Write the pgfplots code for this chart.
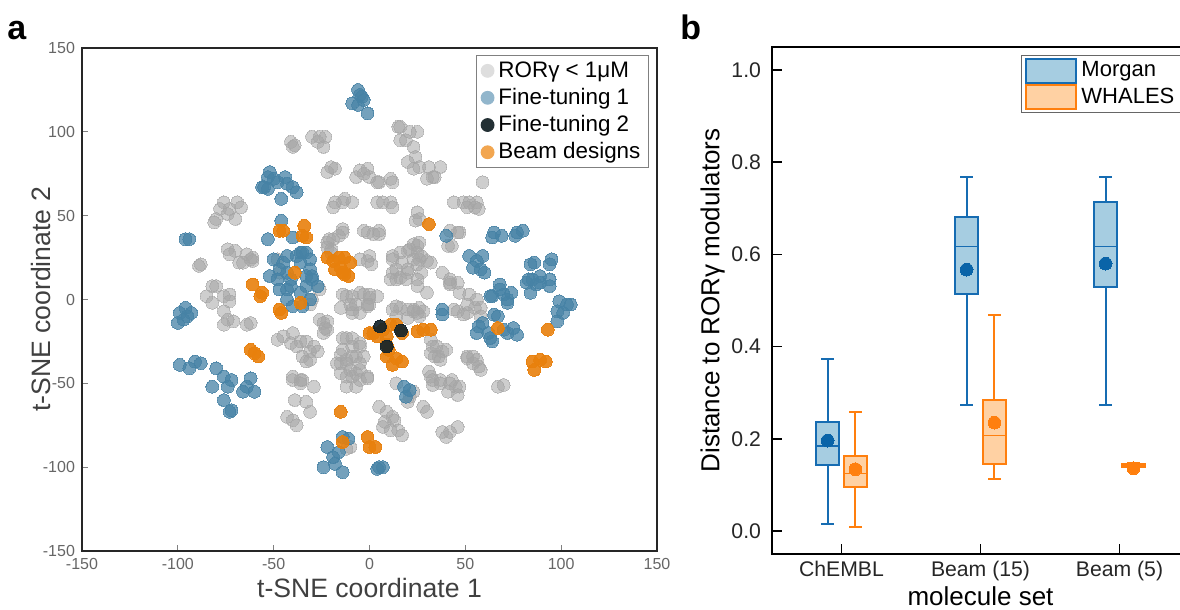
\documentclass[border=0pt]{standalone}
\usepackage{fontspec}
\setmainfont{Liberation Sans}
\usepackage{pgfplots}
\pgfplotsset{compat=1.18}
\usepgfplotslibrary{statistics}

% scatter colours
\definecolor{ptgray}{RGB}{165,165,165}
\definecolor{ptblue}{RGB}{70,130,165}
\definecolor{ptorange}{RGB}{232,128,12}
\definecolor{ptdark}{RGB}{22,36,42}
% legend swatches (panel a)
\definecolor{lgray}{RGB}{222,222,222}
\definecolor{lblue}{RGB}{146,182,204}
\definecolor{ldark}{RGB}{35,48,52}
\definecolor{lorange}{RGB}{242,166,80}
% box plot colours
\definecolor{mline}{RGB}{22,108,178}
\definecolor{mfill}{RGB}{166,205,225}
\definecolor{mdot}{RGB}{10,100,168}
\definecolor{wline}{RGB}{255,127,14}
\definecolor{wfill}{RGB}{255,209,163}

\begin{document}
\begin{tikzpicture}[x=1pt,y=1pt]

% ---------------- panel a: t-SNE ----------------
\begin{axis}[
    at={(41pt,29.5pt)}, anchor=south west,
    width=287.5pt, height=251.5pt, scale only axis,
    xmin=-150, xmax=150, ymin=-150, ymax=150,
    xtick={-150,-100,...,150}, ytick={-150,-100,...,150},
    tick align=inside, xtick pos=bottom, ytick pos=left,
    major tick length=3pt,
    tick style={black!50, line width=0.5pt},
    axis line style={line width=1.2pt, draw=black!85},
    ticklabel style={font=\fontsize{8}{9}\selectfont, text=black!60},
    /pgf/number format/assume math mode=true,
    xlabel={t-SNE coordinate 1}, ylabel={t-SNE coordinate 2},
    label style={font=\fontsize{13.3}{15}\selectfont, text=black!75},
    xlabel style={yshift=2.5pt}, ylabel style={yshift=-11pt},
    legend image code/.code={\fill[#1] (0pt,0pt) circle (3.2pt);},
    legend style={at={(0.986,0.986)}, anchor=north east,
        draw=black!50, line width=0.5pt,
        font=\fontsize{11.2}{13}\selectfont,
        inner xsep=2pt, inner ysep=1pt, row sep=0pt,
        cells={anchor=west}},
]
\addlegendimage{lgray}\addlegendentry{RORγ < 1μM}
\addlegendimage{lblue}\addlegendentry{Fine-tuning 1}
\addlegendimage{ldark}\addlegendentry{Fine-tuning 2}
\addlegendimage{lorange}\addlegendentry{Beam designs}

% RORgamma < 1uM
\addplot[forget plot, only marks, mark=*, mark size=3.2pt,
    mark options={solid, fill=ptgray, draw=ptgray, line width=0pt, opacity=0.55}] coordinates {
(-41,94) (-40,91) (-39,92)
(-30,97) (-26,97) (-23,97) (-27,94) (-24,91)
(-22,76) (-20,79) (-18,78)
(-7,73) (-3,75) (-1,78) (0,73) (4,70) (-5,77)
(-18,58) (-14,58) (-13,60) (-9,58) (-19,55)
(4,58) (7,58) (11,58) (12,55)
(-76,58) (-73,54) (-69,58) (-67,55) (-78,54) (-74,51) (-70,48) (-80,48) (-81,46)
(-74,30) (-70,29) (-64,27) (-62,24) (-66,22) (-61,23) (-68,22) (-73,27) (-61,25)
(-89,20) (-88,21)
(-22,34) (-20,30) (-16,38) (-14,40) (-19,36) (-14,42) (-21,36) (-22,31) (-20,28)
(-1,40) (2,39) (5,39) (-3,41) (5,41)
(-1,23) (1,21) (0,26) (-5,24)
(-48,24) (-47,16)
(-80,8)
(16,103) (21,100) (25,100) (19,95) (23,91) (24,85) (26,79) (31,79) (33,73) (37,79)
(20,82) (23,78) (30,72) (15,103) (16,95) (34,73)
(5,70) (11,72) (12,70) (59,70)
(44,58) (49,58) (52,58) (56,58) (55,55) (51,55) (57,54)
(25,52) (26,48) (24,47)
(42,41) (46,40) (41,32) (47,40) (43,32)
(16,28) (21,30) (25,32) (27,26) (23,24) (30,23) (17,22) (20,16) (27,16) (14,12)
(19,12) (25,8) (12,16) (23,33) (26,34) (20,29) (25,28) (12,26)
(12,24) (14,18) (20,18) (25,21) (16,13) (11,12) (25,12) (26,24) (32,22) (30,4) (42,10)
(42,12) (46,10) (38,16)
(-14,3) (-9,2) (-3,3) (0,1) (4,2) (-15,-5) (-9,-6) (-7,-3) (-1,-3) (-26,6) (-22,-13)
(14,-4) (20,-6) (23,-6) (26,-5) (26,-10) (44,-6) (51,-8) (55,-5) (58,-10)
(-12,-23) (-9,-28) (-5,-28) (-14,-30) (-17,-38) (-12,-38) (-7,-34) (-10,-42) (-5,-42)
(-15,-44) (-9,-46) (-1,-47)
(-26,-12) (-24,-20)
(32,-24) (35,-28) (40,-30) (34,-34) (37,-36)
(51,-34) (56,-36) (58,-42)
(14,-50) (32,-46) (37,-48)
(-5,4) (0,3) (-1,-4) (-5,-8)
(12,-6) (16,-5) (23,-7) (25,-8) (28,-7) (14,-10) (20,-11)
(42,9) (47,4) (52,3) (56,0) (58,-5) (46,-7) (49,-9) (51,-3)
(33,-28) (36,-34) (38,-31) (32,-32)
(51,-35) (54,-34) (57,-40) (54,-38)
(31,-43) (33,-48) (37,-50) (42,-50) (45,-52) (46,-57) (41,-55) (43,-48) (47,-52) (33,-51)
(67,-52) (70,-51)
(-5,-26) (-3,-34) (-5,-38) (-1,-46) (-5,-48)
(5,-64) (9,-67) (12,-70) (13,-72) (8,-73) (11,-78) (15,-78) (17,-81) (7,-76)
(28,-64) (30,-67)
(38,-79) (42,-79) (46,-76) (40,-82)
(21,-58) (23,-55) (20,-61)
(-82,8) (-85,2) (-82,-2) (-76,2) (-73,3) (-73,-1) (-76,-7) (-74,-12) (-71,-13) (-76,-15)
(-62,-14) (-64,-15)
(-48,-24) (-45,-22) (-40,-20) (-41,-26) (-36,-25) (-38,-28) (-33,-25) (-29,-28) (-27,-31)
(-31,-31) (-35,-34) (-33,-37) (-31,-36)
(-24,-14) (-23,-17) (-22,-18)
(-12,2) (-10,-3) (-9,-8) (0,-3)
(-14,-23) (-9,-23) (-15,-38) (-12,-36) (-9,-34) (-12,-46) (-7,-44) (-12,-52) (-7,-52) (-15,-33)
(-40,-48) (-36,-48) (-29,-52) (-39,-60) (-33,-61) (-31,-67) (-43,-70) (-40,-72) (-38,-75)
(-40,-46) (-35,-48) (-36,-50)
(-12,-89) (-10,-88)
(-30,0) (-31,-3)
};

% fine-tuning 1
\addplot[forget plot, only marks, mark=*, mark size=3.2pt,
    mark options={solid, fill=ptblue, draw=ptblue, line width=0pt, opacity=0.75}] coordinates {
(-6,125) (-4,121) (-9,117) (-6,116) (-1,111) (-3,119) (-5,122)
(-52,76) (-53,73) (-55,67) (-48,70) (-44,73) (-43,69) (-38,64) (-46,60) (-40,67) (-50,72)
(-56,67) (-53,66)
(-96,36) (-94,36)
(-46,47) (-53,36) (-40,37) (-36,28) (-43,26) (-33,28) (-38,26) (-47,18) (-48,12) (-43,16)
(-36,22) (-31,18) (-30,12) (-33,8) (-41,8) (-52,14) (-50,24) (-45,22) (-35,28) (-31,24)
(-47,6) (-43,0) (-40,-4) (-35,-4) (-31,0) (-27,8) (-30,14) (-33,14) (-41,12) (-36,4) (-43,6)
(-99,-8) (-95,-10) (-100,-14) (-97,-12) (-93,-8) (-96,-5)
(-99,-39) (-94,-41) (-91,-37) (-88,-38)
(-80,-41) (-76,-46) (-72,-48) (-82,-52) (-76,-60) (-72,-66) (-66,-55) (-62,-47) (-60,-55)
(-74,-52) (-64,-52) (-73,-67)
(-14,-82) (-22,-88) (-19,-94) (-24,-100) (-14,-103) (-11,-83) (-16,-91) (-18,-98)
(5,-100) (7,-100) (4,-101)
(18,-52) (21,-54) (19,-58)
(38,-6) (38,-9)
(57,-16) (56,-20) (59,-14) (63,-23) (67,-10) (70,-18) (75,-17) (77,-21) (64,-25) (62,-20)
(72,-20) (65,-9)
(63,2) (68,6) (72,0) (74,4) (68,9) (70,3) (64,2) (72,-2)
(82,10) (89,10) (94,8) (84,4) (85,12)
(99,-1) (103,-3) (98,-7) (101,-8) (98,-13) (105,-3)
(65,40) (69,38) (64,37) (77,40) (80,41) (76,38)
(59,26) (56,23) (54,19) (60,16) (58,18) (52,26)
(84,21) (86,22) (95,24) (94,21) (83,12) (89,14) (87,9) (94,12)
(40,38)
};

% beam designs
\addplot[forget plot, only marks, mark=*, mark size=3.2pt,
    mark options={solid, fill=ptorange, draw=ptorange, line width=0pt, opacity=0.9}] coordinates {
(-47,41) (-45,41) (-34,44) (-33,37) (-35,38)
(-22,25) (-19,23) (-16,25) (-13,25) (-10,22) (-15,19) (-18,18) (-13,15) (-11,14) (-14,16)
(-39,16) (-36,-2) (-61,9) (-57,2) (-56,4) (-47,-6) (-46,-8)
(-62,-30) (-60,-32) (-58,-34)
(-15,-67) (-14,-85)
(-1,-82) (0,-88) (3,-88)
(2,-20) (4,-22) (11,-15) (14,-15) (17,-20) (9,-22) (9,-34) (14,-35) (17,-37) (12,-39)
(25,-19) (28,-18) (32,-18) (0,-20) (7,-18) (10,-30) (9,-27)
(67,-17) (93,-18)
(85,-37) (89,-36) (92,-37) (86,-42)
(31,45)
};

% fine-tuning 2
\addplot[forget plot, only marks, mark=*, mark size=3.2pt,
    mark options={solid, fill=ptdark, draw=ptdark, line width=0pt, opacity=0.92}] coordinates {
(5.5,-16) (16.4,-18.5) (9,-28)
};
\end{axis}

% ---------------- panel b: box plots ----------------
\begin{axis}[
    at={(386pt,28pt)}, anchor=south west,
    width=208.5pt, height=253.5pt, scale only axis,
    xmin=-0.5, xmax=2.5, ymin=-0.05, ymax=1.05,
    xtick={0,1,2}, xticklabels={ChEMBL, Beam (15), Beam (5)},
    ytick={0,0.2,0.4,0.6,0.8,1.0},
    yticklabel style={xshift=-2pt, /pgf/number format/.cd, fixed, fixed zerofill, precision=1},
    /pgf/number format/assume math mode=true,
    tick align=inside, xtick pos=bottom, ytick pos=left,
    major tick length=5pt,
    tick style={black, line width=0.8pt},
    axis line style={line width=0.9pt},
    ticklabel style={font=\fontsize{10.6}{12}\selectfont, text=black!85},
    xlabel={molecule set}, ylabel={Distance to RORγ modulators},
    label style={font=\fontsize{13}{15}\selectfont},
    xlabel style={yshift=4pt}, ylabel style={yshift=-3.5pt},
    legend image code/.code={\draw[#1] (0pt,-6pt) rectangle (25pt,6pt);},
    legend style={at={(0.597,0.984)}, anchor=north west,
        draw=black!60, line width=0.5pt,
        font=\fontsize{11}{13}\selectfont,
        inner xsep=2pt, inner ysep=1pt, row sep=0pt,
        cells={anchor=west}},
    boxplot/draw direction=y,
    boxplot/box extend=0.163, boxplot/whisker extend=0.09,
    boxplot/every box/.style={line width=1pt},
    boxplot/every whisker/.style={line width=1pt},
    boxplot/every median/.style={line width=0.7pt},
]
\addlegendimage{draw=mline, fill=mfill, line width=1pt}\addlegendentry{Morgan}
\addlegendimage{draw=wline, fill=wfill, line width=1pt}\addlegendentry{WHALES\hspace{6pt}}

% Morgan
\addplot[forget plot, draw=mline, fill=mfill,
    boxplot prepared={draw position=-0.1, lower whisker=0.0145, lower quartile=0.1435,
    median=0.184, upper quartile=0.236, upper whisker=0.373}] coordinates {};
\addplot[forget plot, draw=mline, fill=mfill,
    boxplot prepared={draw position=0.9, lower whisker=0.274, lower quartile=0.514,
    median=0.617, upper quartile=0.681, upper whisker=0.769}] coordinates {};
\addplot[forget plot, draw=mline, fill=mfill,
    boxplot prepared={draw position=1.9, lower whisker=0.274, lower quartile=0.530,
    median=0.617, upper quartile=0.713, upper whisker=0.769}] coordinates {};
% WHALES
\addplot[forget plot, draw=wline, fill=wfill,
    boxplot prepared={draw position=0.1, lower whisker=0.008, lower quartile=0.096,
    median=0.125, upper quartile=0.1616, upper whisker=0.257}] coordinates {};
\addplot[forget plot, draw=wline, fill=wfill,
    boxplot prepared={draw position=1.1, lower whisker=0.112, lower quartile=0.1457,
    median=0.207, upper quartile=0.285, upper whisker=0.469}] coordinates {};
\addplot[forget plot, draw=wline, fill=wfill,
    boxplot prepared={draw position=2.1, lower whisker=0.137, lower quartile=0.139,
    median=0.142, upper quartile=0.146, upper whisker=0.148}] coordinates {};

% means
\addplot[forget plot, only marks, mark=*, mark size=3.2pt,
    mark options={solid, fill=mdot, draw=mdot, line width=0pt}]
    coordinates {(-0.1,0.196) (0.9,0.567) (1.9,0.580)};
\addplot[forget plot, only marks, mark=*, mark size=3.2pt,
    mark options={solid, fill=wline, draw=wline, line width=0pt}]
    coordinates {(0.1,0.134) (1.1,0.235) (2.1,0.136)};
\end{axis}

\node[anchor=base west, inner sep=0pt, font=\fontsize{17}{20}\selectfont\bfseries] at (3.5pt,285pt) {a};
\node[anchor=base west, inner sep=0pt, font=\fontsize{17}{20}\selectfont\bfseries] at (340pt,285pt) {b};

\pgfresetboundingbox
\path[use as bounding box] (0pt,0pt) rectangle (590pt,305pt);
\end{tikzpicture}
\end{document}
